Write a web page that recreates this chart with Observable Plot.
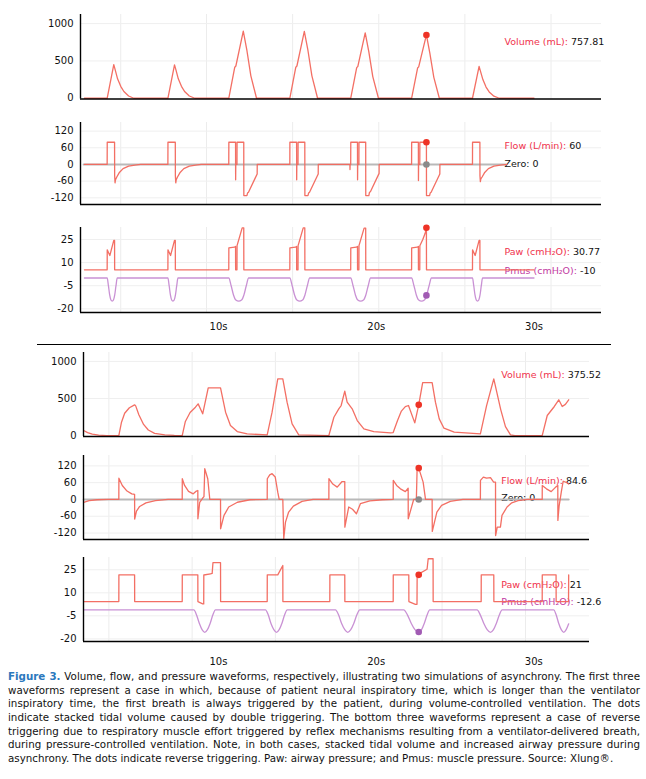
<!DOCTYPE html>
<html><head><meta charset="utf-8">
<script src="https://cdn.jsdelivr.net/npm/d3@7"></script>
<script src="https://cdn.jsdelivr.net/npm/@observablehq/plot@0.6"></script>
<style>
body{margin:0;background:#fff;}
#root{position:relative;width:646px;height:779px;overflow:hidden;background:#fff;font-family:"DejaVu Sans",sans-serif;}
#root svg{position:absolute;left:0;overflow:visible;}
.sep{position:absolute;left:37px;width:574px;top:343.5px;height:0;border-top:1.3px solid #000;}
#caption{position:absolute;left:8px;width:632px;top:670px;color:#111;font-family:"DejaVu Sans",sans-serif;}
#caption div{height:13.7px;line-height:13.7px;text-align:justify;text-align-last:justify;white-space:nowrap;overflow:visible;}
#caption div.last{text-align-last:left;}
#caption b{color:#2b78bd;}
</style></head>
<body><div id="root"><div class="sep"></div><div id="caption"></div></div>
<script>
// ---------- DATA ----------
const volTicks = [0, 500, 1000];
const flowTicks = [-120, -60, 0, 60, 120];
const presTicks = [-20, -5, 10, 25];
const timeTicks = [10, 20, 30];
const gridTop = [3.8, 9.24, 14.7, 20.16, 25.62, 31.08];
const gridBot = [3.05, 8.33, 13.61, 18.9, 24.18, 29.47];

// top simulation (volume-controlled, double triggering)
const topVolume = [
[1.5,0],[2.94,0],[3.36,450],[3.45,380],[3.6,260],[3.8,160],[4.0,90],[4.3,30],[4.63,0],
[6.79,0],[7.21,448],[7.3,380],[7.45,260],[7.65,160],[7.85,90],[8.15,30],[8.5,0],
[10.65,0],[11.03,416],[11.1,432],[11.57,898],[11.8,640],[12.05,300],[12.41,0],
[14.52,0],[14.9,416],[14.97,432],[15.44,895],[15.67,640],[15.92,300],[16.28,0],
[18.38,0],[18.76,410],[18.83,425],[19.3,875],[19.53,620],[19.78,290],[20.14,0],
[22.24,0],[22.62,405],[22.69,420],[23.18,848],[23.4,600],[23.65,280],[24.0,0],
[26.1,0],[26.52,428],[26.61,360],[26.76,250],[26.96,150],[27.16,85],[27.46,28],[27.8,0],[30.0,0]];
const topFlow = [
[1.5,0],[2.94,0],[2.945,80],[3.41,80],[3.415,-40],[3.44,-66],[3.47,-55],[3.55,-45],[3.7,-30],[3.95,-15],[4.3,-6],[4.7,-2],[5.06,0],
[6.79,0],[6.795,80],[7.26,80],[7.265,-40],[7.29,-66],[7.32,-55],[7.4,-45],[7.55,-30],[7.8,-15],[8.15,-6],[8.55,-2],[8.9,0],
[10.65,0],[10.655,80],[11.08,80],[11.085,-55],[11.095,0],[11.17,0],[11.175,80],[11.6,80],[11.605,-112],[11.8,-112],[11.84,-103],[11.9,-100],[12.45,-34],[12.455,0],
[14.52,0],[14.525,80],[14.95,80],[14.955,-55],[14.965,0],[15.04,0],[15.045,80],[15.47,80],[15.475,-112],[15.67,-112],[15.71,-103],[15.77,-100],[16.32,-34],[16.325,0],
[18.33,0],[18.335,-18],[18.345,0],[18.38,0],[18.385,80],[18.81,80],[18.815,-55],[18.825,0],[18.9,0],[18.905,80],[19.33,80],[19.335,-112],[19.53,-112],[19.57,-100],[19.63,-98],[20.18,-32],[20.185,0],
[22.24,0],[22.245,80],[22.67,80],[22.675,-58],[22.685,0],[22.76,0],[22.765,80],[23.18,80],[23.185,-112],[23.38,-112],[23.42,-103],[23.48,-100],[24.03,-34],[24.035,0],
[26.1,0],[26.105,80],[26.57,80],[26.575,-40],[26.6,-62],[26.63,-52],[26.71,-45],[26.86,-30],[27.11,-15],[27.46,-6],[27.86,-2],[28.3,0]];
const topZero = [[1.45,0],[28.2,0]];
const topPaw = [
[1.5,5.3],[2.94,5.3],[2.945,18.3],[3.11,14.6],[3.36,24.4],[3.41,24.4],[3.415,5.3],
[6.79,5.3],[6.795,18.3],[6.96,14.6],[7.21,24.4],[7.26,24.4],[7.265,5.3],
[10.65,5.3],[10.655,19.6],[11.01,20],[11.08,20.5],[11.085,5.3],[11.17,5.3],[11.175,21],[11.5,32.6],[11.6,32.6],[11.605,5.3],
[14.52,5.3],[14.525,19.6],[14.88,20],[14.95,20.5],[14.955,5.3],[15.04,5.3],[15.045,21],[15.37,32.6],[15.47,32.6],[15.475,5.3],
[18.38,5.3],[18.385,19.6],[18.74,20],[18.81,20.5],[18.815,5.3],[18.9,5.3],[18.905,21],[19.23,32.4],[19.33,32.4],[19.335,5.3],
[22.24,5.3],[22.245,19.6],[22.6,20],[22.67,20.5],[22.675,5.3],[22.76,5.3],[22.765,21],[22.95,25],[23.1,29],[23.18,32.6],[23.185,5.3],
[26.1,5.3],[26.105,18.3],[26.27,14.6],[26.52,24.4],[26.57,24.4],[26.575,5.3],[30.0,5.3]];
const topPmus = [
[1.5,0],[2.94,0],[3.02,-5],[3.1,-11],[3.18,-14.3],[3.26,-15],[3.34,-14.3],[3.42,-11],[3.5,-5],[3.58,0],
[6.79,0],[6.87,-5],[6.95,-11],[7.03,-14.3],[7.11,-15],[7.19,-14.3],[7.27,-11],[7.35,-5],[7.43,0],
[10.65,0],[10.8,-5],[10.95,-11],[11.1,-14.3],[11.28,-15],[11.46,-14.3],[11.61,-11],[11.76,-5],[11.91,0],
[14.52,0],[14.67,-5],[14.82,-11],[14.97,-14.3],[15.15,-15],[15.33,-14.3],[15.48,-11],[15.63,-5],[15.78,0],
[18.38,0],[18.53,-5],[18.68,-11],[18.83,-14.3],[19.01,-15],[19.19,-14.3],[19.34,-11],[19.49,-5],[19.64,0],
[22.24,0],[22.39,-5],[22.54,-11],[22.69,-14.3],[22.87,-15],[23.05,-14.3],[23.2,-11],[23.35,-5],[23.5,0],
[26.1,0],[26.18,-5],[26.26,-11],[26.34,-14.3],[26.42,-15],[26.5,-14.3],[26.58,-11],[26.66,-5],[26.74,0],[30.0,0]];
const topDotTime = [23.18];
const topDotVolume = [848], topDotFlow = [80], topDotZero = [0], topDotPaw = [32.6], topDotPmus = [-11.3];

// bottom simulation (pressure-controlled, reverse triggering)
const botVolume = [
[1.45,68],[1.7,40],[2.0,20],[2.4,6],[2.9,0],[3.68,0],[3.85,180],[4.05,300],[4.35,375],[4.68,414],[4.75,400],[4.95,280],[5.25,150],[5.55,75],[5.95,30],[6.6,10],[7.2,3],[7.7,0],
[7.9,190],[8.2,310],[8.54,382],[8.71,427],[9.0,293],[9.35,644],[10.13,644],[10.45,315],[10.76,135],[11.19,54],[11.82,22],[13.09,9],
[13.4,315],[13.76,765],[14.08,765],[14.35,450],[14.67,158],[15.09,9],[17.0,0],
[17.32,247],[17.63,360],[17.78,405],[18.01,598],[18.16,450],[18.48,360],[18.8,202],[19.22,90],[19.85,54],[20.9,36],[21.08,40],
[21.35,200],[21.6,330],[21.85,390],[22.05,405],[22.45,171],[22.7,414],[22.95,715],[23.55,715],[23.76,450],[24.0,225],[24.3,99],[24.95,45],[26.61,22],
[27.0,400],[27.25,600],[27.46,765],[27.9,350],[28.2,120],[28.52,9],[28.8,0],[30.53,0],[30.85,270],[31.3,392],[31.58,482],[31.8,392],[32.0,420],[32.21,482]];
const botFlow = [
[1.45,-10],[1.8,-4],[2.3,-1],[3.0,0],[3.68,0],[3.685,76],[3.9,50],[4.2,30],[4.5,20],[4.68,18],[4.685,-70],[4.8,-42],[5.0,-25],[5.4,-12],[6.0,-4],[6.8,0],
[7.7,0],[7.705,74],[7.85,50],[8.1,29],[8.4,20],[8.6,30],[8.69,32],[8.695,-69],[8.81,-10],[9.0,5],[9.08,10],[9.13,110],[9.32,74],[9.45,0],[10.13,0],[10.135,-105],[10.35,-57],[10.65,-27],[11.2,-10],[12.0,-1],[13.09,0],
[13.095,74],[13.25,88],[13.4,92],[13.6,80],[13.76,26],[13.85,0],[14.08,0],[14.14,-140],[14.25,-81],[14.45,-45],[14.75,-24],[15.3,-7],[16.0,0],[17.0,0],
[17.005,74],[17.25,55],[17.53,44],[17.84,64],[18.01,64],[18.015,-99],[18.26,-27],[18.5,-35],[18.75,-51],[19.0,-15],[19.6,-5],[20.4,-1],[21.08,0],
[21.085,68],[21.3,50],[21.54,38],[21.85,28],[22.03,40],[22.035,-69],[22.38,0],[22.55,0],[22.6,115],[22.7,112],[22.98,62],[23.13,0],[23.55,0],[23.56,-114],[23.85,-45],[24.15,-21],[24.7,-7],[25.5,0],[26.61,0],
[26.615,68],[26.8,80],[27.0,76],[27.25,78],[27.45,62],[27.57,62],[27.575,-129],[27.68,-99],[27.88,-99],[27.98,-57],[28.3,-27],[28.6,-12],[29.0,-4],[29.6,0],[30.53,0],
[30.535,50],[30.8,38],[31.1,28],[31.4,45],[31.52,50],[31.525,-75],[31.6,-25],[31.75,30],[31.86,65],[32.1,60],[32.21,55]];
const botZero = [[1.45,0],[32.21,0]];
const botPaw = [
[1.45,4.3],[3.68,4.3],[3.685,21.7],[4.68,21.7],[4.685,4.3],[7.7,4.3],[7.705,21.7],[8.69,21.7],[8.695,4.3],[9.0,2.8],[9.065,2.8],[9.07,21.6],[9.5,22.4],[9.6,22.6],[9.65,29.6],[10.13,29.6],[10.135,4.3],
[13.09,4.3],[13.095,21.7],[13.76,21.7],[14.08,27.8],[14.085,4.3],[17.06,4.3],[17.065,21.7],[18.01,21.7],[18.015,4.3],
[21.08,4.3],[21.085,21.7],[22.07,21.7],[22.075,4.3],[22.49,2.5],[22.59,2.5],[22.6,21.7],[23.2,25.2],[23.23,25.5],[23.3,32.2],[23.61,32.2],[23.615,4.3],
[26.66,4.3],[26.665,21.7],[27.46,21.7],[27.465,4.3],[30.53,4.3],[30.535,21.7],[31.41,21.7],[31.415,4.3],[32.2,4.3],[32.21,21.7]];
const botPmus = [
[1.45,-1.1],[8.44,-1.1],[8.61,-4.5],[8.79,-10],[8.96,-14],[9.13,-15.7],[9.3,-14],[9.47,-10],[9.64,-4.5],[9.81,-1.1],
[12.98,-1.1],[13.16,-4.5],[13.33,-10],[13.51,-14],[13.68,-15.7],[13.85,-14],[14.02,-10],[14.19,-4.5],[14.36,-1.1],
[17.42,-1.1],[17.62,-4.5],[17.81,-10],[18.01,-14],[18.2,-15.7],[18.39,-14],[18.58,-10],[18.77,-4.5],[18.96,-1.1],
[21.75,-1.1],[21.99,-4.5],[22.23,-10],[22.46,-14],[22.7,-15.7],[22.88,-14],[23.05,-10],[23.23,-4.5],[23.4,-1.1],
[26.4,-1.1],[26.61,-4.5],[26.83,-10],[27.04,-14],[27.25,-15.7],[27.44,-14],[27.62,-10],[27.81,-4.5],[27.99,-1.1],
[31.26,-1.1],[31.42,-4.5],[31.58,-10],[31.74,-14],[31.9,-15.7],[32.05,-14],[32.21,-10.2]];
const botDotTime = [22.7];
const botDotVolume = [414], botDotFlow = [112], botDotZero = [0], botDotPaw = [21.7], botDotPmus = [-15.5];

// legend texts
const legendNames = ["Volume (mL):", "Flow (L/min):", "Zero:", "Paw (cmH\u2082O):", "Pmus (cmH\u2082O):"];
const topLegendValues = ["757.81", "60", "0", "30.77", "-10"];
const botLegendValues = ["375.52", "84.6", "0", "21", "-12.6"];

const captionLines = [
 "Volume, flow, and pressure waveforms, respectively, illustrating two simulations of asynchrony. The first three",
 "waveforms represent a case in which, because of patient neural inspiratory time, which is longer than the ventilator",
 "inspiratory time, the first breath is always triggered by the patient, during volume-controlled ventilation. The dots",
 "indicate stacked tidal volume caused by double triggering. The bottom three waveforms represent a case of reverse",
 "triggering due to respiratory muscle effort triggered by reflex mechanisms resulting from a ventilator-delivered breath,",
 "during pressure-controlled ventilation. Note, in both cases, stacked tidal volume and increased airway pressure during",
 "asynchrony. The dots indicate reverse triggering. Paw: airway pressure; and Pmus: muscle pressure. Source: Xlung\u00ae."];
const captionLead = "Figure 3.";

// ---------- STYLE / LAYOUT ----------
const RED = "#f2675c", DOTRED = "#ee3326", PURPLE = "#c68bd2", DOTPURPLE = "#a15bb3",
      GRAY = "#b9b9b9", DOTGRAY = "#8a8a8a", LBLRED = "#f0324c", LBLPMUS = "#c23aa2";
const FONT = '"DejaVu Sans", sans-serif';
const LEGFS = 9.5;
const ctx = document.createElement("canvas").getContext("2d");
function textW(s, size, weight = "normal") { ctx.font = `${weight} ${size}px "DejaVu Sans"`; return ctx.measureText(s).width; }

const root = document.getElementById("root");

function legendMarks(items, dx) {
  const marks = [];
  for (const it of items) {
    marks.push(Plot.text([it.name], {frameAnchor: "top-left", dx, dy: it.dy, text: d => d, textAnchor: "start",
      lineAnchor: "middle", fill: it.color, fontSize: LEGFS}));
    const w = textW(it.name, LEGFS);
    marks.push(Plot.text([it.value], {frameAnchor: "top-left", dx: dx + w + 3, dy: it.dy, text: d => d, textAnchor: "start",
      lineAnchor: "middle", fill: "#111", fontSize: LEGFS}));
  }
  return marks;
}

function panel(o) {
  const mt = 4, mb = o.xAxis ? o.mb : 4;
  const xo = o.xAxis
    ? {domain: o.xDomain, ticks: timeTicks, tickFormat: d => d + "s", tickSize: 0, tickPadding: o.xPad, label: null}
    : {domain: o.xDomain, axis: null};
  const pt = d => d[0], pv = d => d[1];
  const marks = [
    Plot.ruleX(o.grid, {stroke: "#ececec", strokeWidth: 1}),
    Plot.ruleY(o.yTicks.filter(v => v !== 0), {stroke: "#efefef", strokeWidth: 1}),
    ...legendMarks(o.legend, o.legendDx)
  ];
  if (o.zero) marks.push(Plot.line(o.zero, {x: pt, y: pv, stroke: GRAY, strokeWidth: 2}));
  for (const s of o.series) marks.push(Plot.line(s.data, {x: pt, y: pv, stroke: s.stroke, strokeWidth: 1.3, strokeOpacity: 0.95, curve: s.curve || "linear"}));
  marks.push(Plot.ruleX([o.xDomain[0]], {stroke: "#000", strokeWidth: 1.4}));
  marks.push(Plot.ruleY([o.yDomain[0]], {stroke: "#000", strokeWidth: 1.6}));
  for (const d of o.dots) marks.push(Plot.dot(d.v.map((v, i) => [d.t[i], v]), {x: pt, y: pv, r: 3.3, fill: d.fill, stroke: "none"}));
  const svg = Plot.plot({
    width: 646, height: (o.bottom - o.top) + mt + mb,
    marginTop: mt, marginBottom: mb, marginLeft: o.left, marginRight: 646 - o.right,
    x: xo,
    y: {domain: o.yDomain, ticks: o.yTicks, tickSize: 0, tickPadding: 7, label: null, tickFormat: d => String(d)},
    style: {fontFamily: FONT, fontSize: "10px", color: "#111", background: "transparent", overflow: "visible"},
    marks
  });
  svg.style.top = (o.top - mt) + "px";
  root.appendChild(svg);
}

const topX = [1.25, 34.28], botX = [1.44, 33.53];

// top block
panel({top: 14, bottom: 98.5, left: 80, right: 601, xDomain: topX, yDomain: [-10, 1122], yTicks: volTicks, grid: gridTop,
  series: [{data: topVolume, stroke: RED}],
  dots: [{t: topDotTime, v: topDotVolume, fill: DOTRED}],
  legendDx: 424, legend: [{name: legendNames[0], value: topLegendValues[0], dy: 27, color: LBLRED}]});
panel({top: 122, bottom: 204, left: 80, right: 601, xDomain: topX, yDomain: [-144, 151], yTicks: flowTicks, grid: gridTop,
  zero: topZero, series: [{data: topFlow, stroke: RED}],
  dots: [{t: topDotTime, v: topDotZero, fill: DOTGRAY}, {t: topDotTime, v: topDotFlow, fill: DOTRED}],
  legendDx: 424, legend: [{name: legendNames[1], value: topLegendValues[1], dy: 23, color: LBLRED},
                          {name: legendNames[2], value: topLegendValues[2], dy: 41, color: "#111"}]});
panel({top: 227, bottom: 312, left: 80, right: 601, xDomain: topX, yDomain: [-22.4, 32.8], yTicks: presTicks, grid: gridTop,
  xAxis: true, mb: 30, xPad: 10,
  series: [{data: topPmus, stroke: PURPLE, curve: "monotone-x"}, {data: topPaw, stroke: RED}],
  dots: [{t: topDotTime, v: topDotPaw, fill: DOTRED}, {t: topDotTime, v: topDotPmus, fill: DOTPURPLE}],
  legendDx: 424, legend: [{name: legendNames[3], value: topLegendValues[3], dy: 24.7, color: LBLRED},
                          {name: legendNames[4], value: topLegendValues[4], dy: 43, color: LBLPMUS}]});

// bottom block
panel({top: 352, bottom: 436, left: 83, right: 589, xDomain: botX, yDomain: [-13, 1120], yTicks: volTicks, grid: gridBot,
  series: [{data: botVolume, stroke: RED}],
  dots: [{t: botDotTime, v: botDotVolume, fill: DOTRED}],
  legendDx: 417.7, legend: [{name: legendNames[0], value: botLegendValues[0], dy: 22.3, color: LBLRED}]});
panel({top: 455, bottom: 539, left: 83, right: 589, xDomain: botX, yDomain: [-143, 157], yTicks: flowTicks, grid: gridBot,
  zero: botZero, series: [{data: botFlow, stroke: RED}],
  dots: [{t: botDotTime, v: botDotZero, fill: DOTGRAY}, {t: botDotTime, v: botDotFlow, fill: DOTRED}],
  legendDx: 417.7, legend: [{name: legendNames[1], value: botLegendValues[1], dy: 25, color: LBLRED},
                            {name: legendNames[2], value: botLegendValues[2], dy: 42.7, color: "#111"}]});
panel({top: 557, bottom: 641, left: 83, right: 589, xDomain: botX, yDomain: [-21.7, 33], yTicks: presTicks, grid: gridBot,
  xAxis: true, mb: 30, xPad: 16,
  series: [{data: botPmus, stroke: PURPLE, curve: "monotone-x"}, {data: botPaw, stroke: RED}],
  dots: [{t: botDotTime, v: botDotPaw, fill: DOTRED}, {t: botDotTime, v: botDotPmus, fill: DOTPURPLE}],
  legendDx: 417.7, legend: [{name: legendNames[3], value: botLegendValues[3], dy: 27.3, color: LBLRED},
                            {name: legendNames[4], value: botLegendValues[4], dy: 44.7, color: LBLPMUS}]});

// caption
(function () {
  const cap = document.getElementById("caption");
  const base = 12;
  let scale = Infinity;
  captionLines.forEach((l, i) => {
    let w = textW(l, base);
    if (i === 0) w += textW(captionLead + " ", base, "bold");
    scale = Math.min(scale, 628 / w);
  });
  const fs = Math.floor(base * scale * 10) / 10;
  cap.style.fontSize = fs + "px";
  captionLines.forEach((l, i) => {
    const div = document.createElement("div");
    if (i === captionLines.length - 1) div.className = "last";
    if (i === 0) { const b = document.createElement("b"); b.textContent = captionLead; div.appendChild(b); div.appendChild(document.createTextNode(" " + l)); }
    else div.textContent = l;
    cap.appendChild(div);
  });
})();
</script>
</body></html>
